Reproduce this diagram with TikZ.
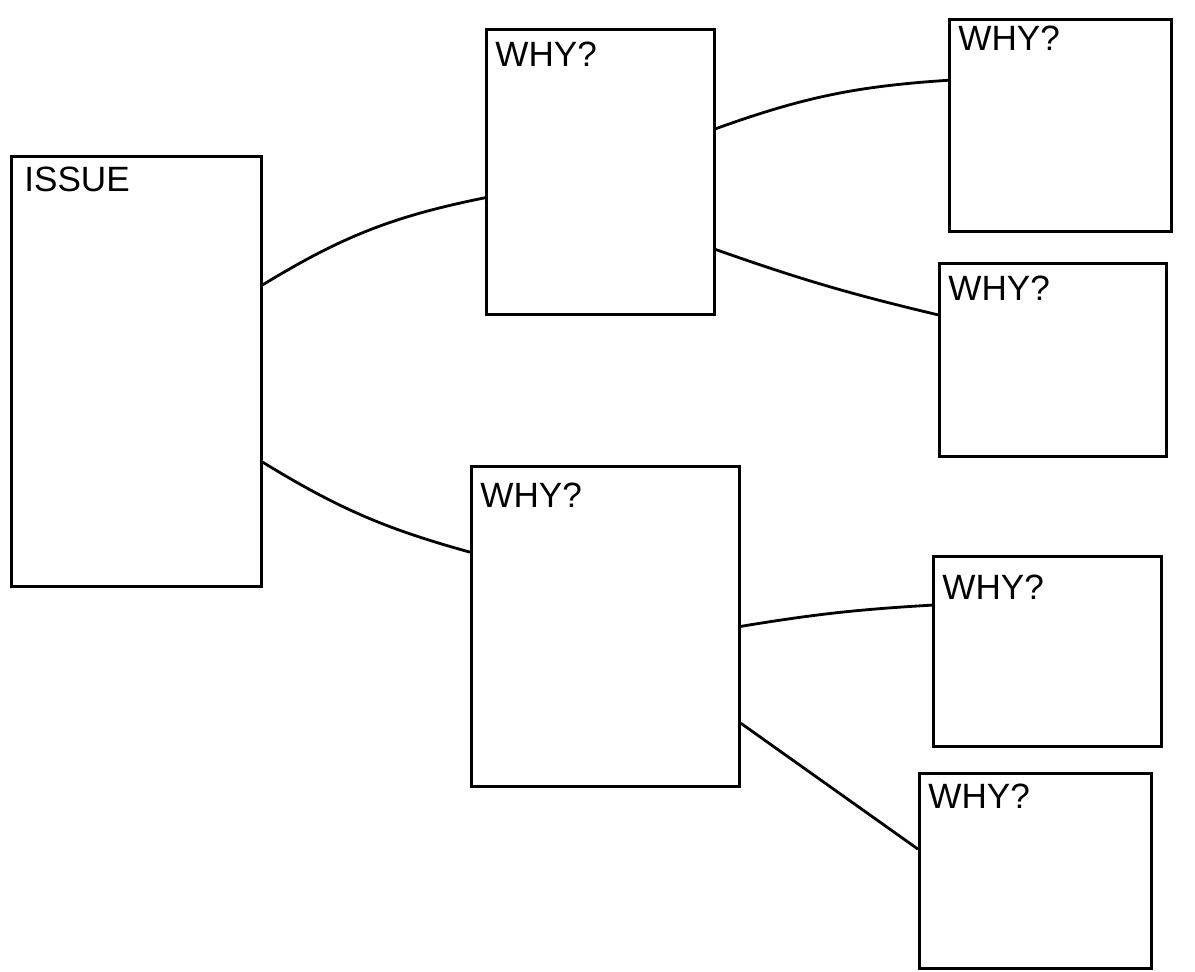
\documentclass[tikz,border=0pt]{standalone}
\usepackage{fontspec}
\setmainfont{Liberation Sans}
\usetikzlibrary{calc}

\tikzset{
  box/.style={draw, line width=1.6pt, anchor=north west, inner sep=0pt},
  tag/.style={anchor=north west, inner sep=0pt, font=\fontsize{20}{24}\selectfont},
  link/.style={line width=1.6pt}
}

\begin{document}
\begin{tikzpicture}[x=0.02cm, y=-0.02cm]
\useasboundingbox (0,0) rectangle (1195,972);

\node[box, minimum width=5cm, minimum height=8.6cm] (issue) at (10,155) {};
\node[box, minimum width=4.56cm, minimum height=5.7cm] (whyA) at (485,28) {};
\node[box, minimum width=5.36cm, minimum height=6.4cm] (whyB) at (470,465) {};
\node[box, minimum width=4.44cm, minimum height=4.24cm] (whyC) at (948,18) {};
\node[box, minimum width=4.54cm, minimum height=3.86cm] (whyD) at (938,262) {};
\node[box, minimum width=4.56cm, minimum height=3.8cm] (whyE) at (932,555) {};
\node[box, minimum width=4.64cm, minimum height=3.9cm] (whyF) at (918,772) {};

\node[tag] (issueT) at ($(issue.north west)+(14,12)$) {ISSUE};
\node[tag] (whyAT) at ($(whyA.north west)+(10,14)$) {WHY?};
\node[tag] (whyBT) at ($(whyB.north west)+(10,18)$) {WHY?};
\node[tag] (whyCT) at ($(whyC.north west)+(10,8)$) {WHY?};
\node[tag] (whyDT) at ($(whyD.north west)+(10,14)$) {WHY?};
\node[tag] (whyET) at ($(whyE.north west)+(10,20)$) {WHY?};
\node[tag] (whyFT) at ($(whyF.north west)+(10,12)$) {WHY?};

% issue to first whys
\draw[link] ($(issue.north east)!0.3!(issue.south east)$) to[bend left=10] ($(whyA.north west)!0.59!(whyA.south west)$);
\draw[link] ($(issue.north east)!0.71!(issue.south east)$) to[bend right=8] ($(whyB.north west)!0.27!(whyB.south west)$);

% first whys to second whys
\draw[link] ($(whyA.north east)!0.35!(whyA.south east)$) to[bend left=8] ($(whyC.north west)!0.29!(whyC.south west)$);
\draw[link] ($(whyA.north east)!0.77!(whyA.south east)$) to[bend right=3] ($(whyD.north west)!0.27!(whyD.south west)$);
\draw[link] ($(whyB.north east)!0.5!(whyB.south east)$) to[bend left=3] ($(whyE.north west)!0.26!(whyE.south west)$);
\draw[link] ($(whyB.north east)!0.8!(whyB.south east)$) -- ($(whyF.north west)!0.39!(whyF.south west)$);
\end{tikzpicture}
\end{document}
